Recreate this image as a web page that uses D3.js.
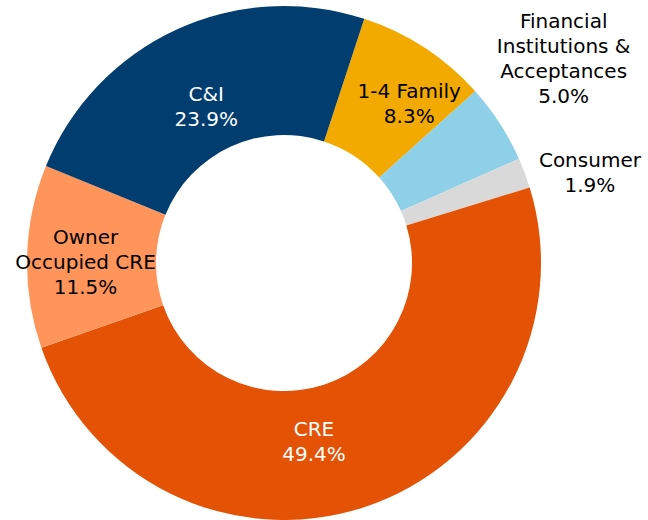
<!DOCTYPE html>
<html>
<head>
  <meta charset="utf-8">
  <title>Loan Portfolio Mix</title>
  <script src="https://d3js.org/d3.v7.min.js"></script>
  <style>
    body, html { margin: 0; padding: 0; background: #fff; }
    svg { display: block; }
    .lbl { font-family: "DejaVu Sans", Verdana, sans-serif; font-size: 20px; text-anchor: middle; }
  </style>
</head>
<body>
<svg width="648" height="520"></svg>
<script>
  // Slices in clockwise order, starting just right of 12 o'clock
  const categories = ["1-4 Family", "Financial Institutions & Acceptances", "Consumer", "CRE", "Owner Occupied CRE", "C&I"];
  const values = [8.3, 5.0, 1.9, 49.4, 11.5, 23.9];
  const labelLines = [
    ["1-4 Family", "8.3%"],
    ["Financial", "Institutions &", "Acceptances", "5.0%"],
    ["Consumer", "1.9%"],
    ["CRE", "49.4%"],
    ["Owner", "Occupied CRE", "11.5%"],
    ["C&I", "23.9%"]
  ];
  const colors = ["#F2AA00", "#8ED0E7", "#D9D9D9", "#E35205", "#FF955A", "#023D6F"];
  const textColors = ["#000", "#000", "#000", "#fff", "#000", "#fff"];
  const outside = [false, true, true, false, false, false];
  // small nudges so labels sit where the original put them
  const labelNudge = [[20, 1], [10, -30], [5, 22], [-30, -5], [-6, 4], [3, 18]];

  const svg = d3.select("svg");
  const cx = 284, cy = 263, R = 257, r0 = 128;
  const g = svg.append("g").attr("transform", `translate(${cx},${cy})`);

  const start = 18.2 * Math.PI / 180;
  const pie = d3.pie().sort(null).value(d => d)
    .startAngle(start).endAngle(start + 2 * Math.PI);
  const arcs = pie(values);

  const arc = d3.arc().innerRadius(r0).outerRadius(R);
  const outerArc = d3.arc().innerRadius(R * 1.25).outerRadius(R * 1.25);

  g.selectAll("path.slice")
    .data(arcs)
    .enter().append("path")
    .attr("class", "slice")
    .attr("d", arc)
    .attr("fill", (d, i) => colors[i]);

  const lh = 25;
  const labels = g.selectAll("text.lbl")
    .data(arcs)
    .enter().append("text")
    .attr("class", "lbl")
    .attr("fill", (d, i) => textColors[i])
    .attr("transform", (d, i) => {
      const c = outside[i] ? outerArc.centroid(d) : arc.centroid(d);
      return `translate(${c[0] + labelNudge[i][0]},${c[1] + labelNudge[i][1]})`;
    });

  labels.each(function(d, i) {
    const lines = labelLines[i];
    const t = d3.select(this);
    lines.forEach((s, k) => {
      t.append("tspan")
        .attr("x", 0)
        .attr("y", (k - (lines.length - 1) / 2) * lh)
        .attr("dy", "0.36em")
        .text(s);
    });
  });
</script>
</body>
</html>
